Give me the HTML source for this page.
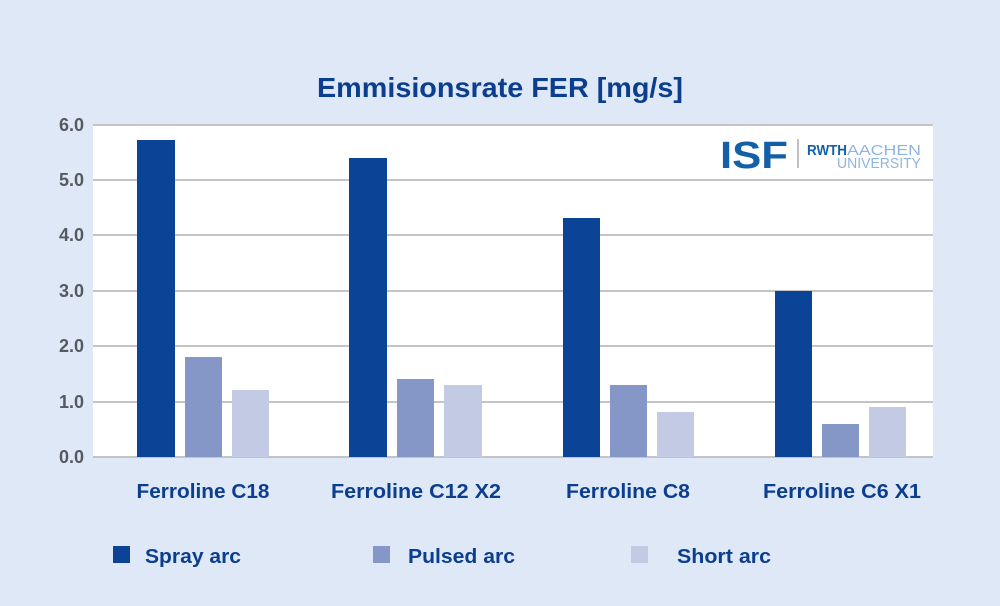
<!DOCTYPE html>
<html><head><style>
body{margin:0;background:#dfe8f6;}
svg{display:block;font-family:"Liberation Sans",Arial,sans-serif;}
</style></head><body>
<svg width="1000" height="606" viewBox="0 0 1000 606">
<rect width="1000" height="606" fill="#dfe8f6"/>
<text x="500" y="97" text-anchor="middle" font-size="28" font-weight="bold" fill="#0b3e8f" textLength="366" lengthAdjust="spacingAndGlyphs">Emmisionsrate FER [mg/s]</text>
<rect x="93" y="125" width="840" height="332" fill="#fff"/>
<g stroke="#c4c4c8" stroke-width="2">
<line x1="93" x2="933" y1="125" y2="125"/>
<line x1="93" x2="933" y1="180" y2="180"/>
<line x1="93" x2="933" y1="235" y2="235"/>
<line x1="93" x2="933" y1="291" y2="291"/>
<line x1="93" x2="933" y1="346" y2="346"/>
<line x1="93" x2="933" y1="402" y2="402"/>
<line x1="93" x2="933" y1="457" y2="457"/>
</g>
<g font-size="18" font-weight="bold" fill="#555a60" text-anchor="end">
<text x="84" y="131">6.0</text><text x="84" y="186">5.0</text><text x="84" y="241">4.0</text>
<text x="84" y="297">3.0</text><text x="84" y="352">2.0</text><text x="84" y="408">1.0</text><text x="84" y="463">0.0</text>
</g>
<g fill="#0b4496">
<rect x="137" y="140" width="38" height="317"/>
<rect x="349" y="158" width="38" height="299"/>
<rect x="563" y="218" width="37" height="239"/>
<rect x="775" y="291" width="37" height="166"/>
</g>
<g fill="#8497c6">
<rect x="185" y="357" width="37" height="100"/>
<rect x="397" y="379" width="37" height="78"/>
<rect x="610" y="385" width="37" height="72"/>
<rect x="822" y="424" width="37" height="33"/>
</g>
<g fill="#c3cbe4">
<rect x="232" y="390" width="37" height="67"/>
<rect x="444" y="385" width="38" height="72"/>
<rect x="657" y="412" width="37" height="45"/>
<rect x="869" y="407" width="37" height="50"/>
</g>
<g font-size="20" font-weight="bold" fill="#0b3e8f" text-anchor="middle">
<text x="203" y="498" textLength="133" lengthAdjust="spacingAndGlyphs">Ferroline C18</text>
<text x="416" y="498" textLength="170" lengthAdjust="spacingAndGlyphs">Ferroline C12 X2</text>
<text x="628" y="498" textLength="124" lengthAdjust="spacingAndGlyphs">Ferroline C8</text>
<text x="842" y="498" textLength="158" lengthAdjust="spacingAndGlyphs">Ferroline C6 X1</text>
</g>
<rect x="113" y="546" width="17" height="17" fill="#0b4496"/>
<rect x="373" y="546" width="17" height="17" fill="#8497c6"/>
<rect x="631" y="546" width="17" height="17" fill="#c3cbe4"/>
<g font-size="20" font-weight="bold" fill="#0b3e8f">
<text x="145" y="563" textLength="96" lengthAdjust="spacingAndGlyphs">Spray arc</text>
<text x="408" y="563" textLength="107" lengthAdjust="spacingAndGlyphs">Pulsed arc</text>
<text x="677" y="563" textLength="94" lengthAdjust="spacingAndGlyphs">Short arc</text>
</g>
<text x="720" y="168" font-size="38" font-weight="bold" fill="#1260a8" textLength="68" lengthAdjust="spacingAndGlyphs">ISF</text>
<line x1="798" y1="139" x2="798" y2="168" stroke="#aaa" stroke-width="1.5"/>
<text x="807" y="155" font-size="15" font-weight="bold" fill="#1260a8" textLength="40" lengthAdjust="spacingAndGlyphs">RWTH</text>
<text x="847" y="155" font-size="15" fill="#8fb4e0" textLength="74" lengthAdjust="spacingAndGlyphs">AACHEN</text>
<text x="837" y="168" font-size="15" fill="#8fb4e0" textLength="84" lengthAdjust="spacingAndGlyphs">UNIVERSITY</text>
</svg>
</body></html>
